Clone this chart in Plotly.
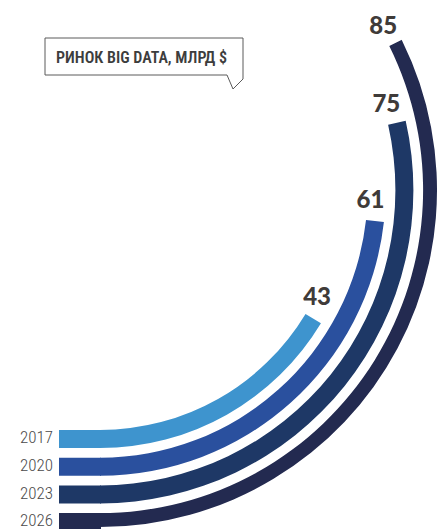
import math
import plotly.graph_objects as go

# ---- data ----
years = ["2017", "2020", "2023", "2026"]
values = [43, 61, 75, 85]
value_labels = ["43", "61", "75", "85"]
colors = ["#3E94CE", "#2A509E", "#1E3866", "#232A50"]
title_text = "РИНОК BIG DATA, МЛРД $"

# ---- geometry / style constants (pixels) ----
W, H = 437, 529
CX, CY = 100, 190          # centre of the arcs on the page
R0, DR = 249, 27.7         # mid radius of the first arc and spacing
THICK = 18                 # bar thickness
DEG_PER_UNIT = 1.37        # angular scale: degrees per billion $
START = -90                # arcs start pointing straight down
LEAD = 41                  # straight lead-in length left of the centre
SECTOR = [-90, 34]
LBL_ALONG, LBL_IN = 19, 6  # label offset past bar end (px along arc, px inward)

radii = [R0 + i * DR for i in range(len(values))]
RPX = min(W - CX, H - CY)  # radial range in px units

# polar domain so that the polar centre lands at (CX, CY)
y1 = math.sin(math.radians(SECTOR[1]))
dom_x = [CX / W, (CX + RPX) / W]
dom_y = [max(0.0, 1 - (CY + RPX) / H), 1 - (CY - y1 * RPX) / H]


def to_data(px, py):
    return px - CX, CY - py


fig = go.Figure()

# straight lead-in parts of the bars
fig.add_trace(go.Bar(
    orientation="h",
    y=[-r for r in radii],
    x=[LEAD + 1] * len(values),
    base=[-LEAD] * len(values),
    width=THICK,
    marker=dict(color=colors, line=dict(width=0)),
    hoverinfo="skip", showlegend=False,
))

# year labels
fig.add_trace(go.Scatter(
    x=[-(LEAD + 6)] * len(years),
    y=[-r for r in radii],
    mode="text", text=years, textposition="middle left",
    textfont=dict(family="Roboto Condensed, Liberation Sans Narrow, Roboto", size=17,
                  weight=300, color="#4a4a4a"),
    hoverinfo="skip", showlegend=False, cliponaxis=False,
))

# arcs
fig.add_trace(go.Barpolar(
    r=[THICK] * len(values),
    base=[r - THICK / 2 for r in radii],
    theta=[START] * len(values),
    offset=0,
    width=[v * DEG_PER_UNIT for v in values],
    marker=dict(color=colors, line=dict(width=0)),
    subplot="polar", hoverinfo="skip", showlegend=False,
))

# value labels, just past the end of each arc
fig.add_trace(go.Scatterpolar(
    r=[r - LBL_IN for r in radii],
    theta=[START + v * DEG_PER_UNIT + math.degrees(LBL_ALONG / r) for v, r in zip(values, radii)],
    mode="text", text=value_labels, textposition="middle center",
    textfont=dict(family="Lato", size=24, weight=900, color="#3f3b39"),
    subplot="polar", cliponaxis=False, hoverinfo="skip", showlegend=False,
))

# title call-out box
pts = [(45, 38), (243, 38), (243, 79), (233, 89), (227, 75), (45, 75)]
dpts = [to_data(*p) for p in pts]
path = "M " + " L ".join(f"{x},{y}" for x, y in dpts) + " Z"
fig.add_shape(type="path", path=path, xref="x", yref="y",
              line=dict(color="#5a5a5a", width=1), fillcolor="rgba(0,0,0,0)")
tx, ty = to_data(141, 57)
fig.add_annotation(x=tx, y=ty, xref="x", yref="y", text=title_text, showarrow=False,
                   font=dict(family="Roboto Condensed, Liberation Sans Narrow, Roboto",
                             size=16, weight=600, color="#3d3d3d"))

fig.update_layout(
    width=W, height=H,
    margin=dict(l=0, r=0, t=0, b=0),
    paper_bgcolor="white", plot_bgcolor="rgba(0,0,0,0)",
    showlegend=False,
    xaxis=dict(range=[-CX, W - CX], visible=False, fixedrange=True, domain=[0, 1]),
    yaxis=dict(range=[CY - H, CY], visible=False, fixedrange=True, domain=[0, 1]),
    polar=dict(
        domain=dict(x=dom_x, y=dom_y),
        sector=SECTOR,
        hole=0,
        bgcolor="rgba(0,0,0,0)",
        barmode="overlay",
        radialaxis=dict(range=[0, RPX], visible=False),
        angularaxis=dict(visible=False, rotation=0, direction="counterclockwise"),
    ),
)

fig.write_html("out.html", post_script="document.body.style.margin='0px';",
               config={"displayModeBar": False})
